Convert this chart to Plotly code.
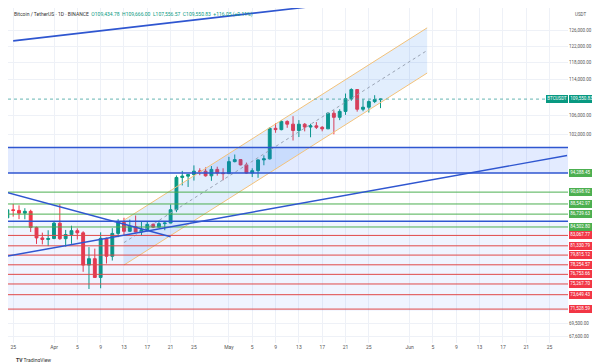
import math
import pandas as pd
import plotly.graph_objects as go

# ---------------- data ----------------
dates = pd.date_range("2025-03-24", "2025-05-27", freq="D")
opens = [86082, 87498, 87392, 86909, 87232, 84424, 82648, 82390,
         82550, 85159, 82516, 83214, 83868, 83504, 78214, 79235, 76272, 82573, 79626, 83404,
         85276, 83760, 84591, 83643, 84031, 84947, 84474, 85077, 85179, 87516, 93442, 93691,
         93980, 94638, 94629, 93750, 94980, 94284,
         94172, 96489, 96887, 95856, 94277, 94733, 96834, 97032, 103241, 102971, 104696, 104118,
         102791, 104103, 103507, 103763, 103463, 103126, 106454, 105573, 106849, 109643, 111696,
         107318, 107762, 109004, 109434.78]
highs = [88765, 88543, 88292, 87786, 87515, 84567, 83534, 83943,
         85487, 88500, 83998, 84720, 84266, 83773, 81120, 80868, 83588, 82700, 84300, 85856,
         86100, 85785, 86496, 85500, 85470, 85132, 85595, 85320, 88466, 93817, 94696, 94000,
         95758, 95199, 95369, 95630, 95500, 95200,
         97437, 97895, 96935, 96304, 95199, 96920, 97732, 103500, 104324, 104984, 104937, 105819,
         104976, 104356, 104192, 104550, 103709, 106660, 107108, 107320, 110797, 111980, 111800,
         109506, 109300, 110422, 109666.00]
lows = [85345, 86300, 85861, 85837, 83646, 81644, 81565, 81279,
        82429, 82320, 81211, 81659, 82379, 77153, 74508, 76239, 74620, 78456, 78936, 82769,
        83034, 83678, 83600, 83111, 83736, 84303, 84424, 83949, 85144, 87084, 91935, 91650,
        92855, 93870, 93602, 92800, 93780, 92910,
        94111, 96350, 95753, 94151, 93514, 93377, 95784, 96913, 102316, 102818, 103346, 100718,
        101429, 102602, 101383, 103100, 102612, 103105, 102000, 104970, 106100, 109177, 106800,
        106876, 106600, 108670, 107556.57]
closes = [87498, 87392, 86909, 87232, 84424, 82648, 82390, 82550,
          85159, 82516, 83214, 83868, 83504, 78214, 79235, 76272, 82573, 79626, 83404, 85276,
          83760, 84591, 83643, 84031, 84947, 84474, 85077, 85179, 87516, 93442, 93691, 93980,
          94638, 94629, 93750, 94980, 94284, 94172,
          96489, 96887, 95856, 94277, 94733, 96834, 97032, 103241, 102971, 104696, 104118, 102791,
          104103, 103507, 103763, 103463, 103126, 106454, 105573, 106849, 109643, 111696, 107318,
          107762, 109004, 109434, 109550.83]

green_levels = [90698.92, 88542.97, 86739.63, 84502.80]
red_levels = [83067.77, 81330.79, 79815.12, 78254.57, 76753.66, 75267.70, 73649.43, 71528.59]
blue_levels = [99300, 94288.45, 85500]
support_label = 94288.45
last_price = 109550.83

band_zone = [94288.45, 99300]
lower_zone = [71300, 85500]

top_trend_x = ["2025-03-25", "2025-05-30"]
top_trend_y = [123300, 134900]
desc_trend_x = ["2025-03-24", "2025-04-21"]
desc_trend_y = [90600, 82850]
asc_trend_x = ["2025-03-24", "2025-06-28"]
asc_trend_y = [79640, 97690]

chan_x = ["2025-04-13", "2025-06-04"]
chan_low = [78220, 115500]
chan_up = [85680, 126600]

x_tickvals = ["2025-03-25", "2025-04-01", "2025-04-05", "2025-04-09", "2025-04-13", "2025-04-17",
              "2025-04-21", "2025-04-25", "2025-05-01", "2025-05-05", "2025-05-09", "2025-05-13",
              "2025-05-17", "2025-05-21", "2025-05-25", "2025-06-01", "2025-06-05", "2025-06-09",
              "2025-06-13", "2025-06-17", "2025-06-21", "2025-06-25"]
x_ticktext = ["25", "Apr", "5", "9", "13", "17", "21", "25", "May", "5", "9", "13", "17", "21", "25",
              "Jun", "5", "9", "13", "17", "21", "25"]
y_tickvals = [67600, 69500, 102000, 106000, 114000, 118000, 122000, 126000]

# ---------------- figure ----------------
X0, X1 = "2025-03-24 02:38", "2025-06-28 03:50"
Y0, Y1 = 66769, 131806
BLUE = "#2f56d0"
GREEN_L = "#4caf50"
RED_L = "#e04848"

fig = go.Figure()

def seg(x, y, color, width=1, dash=None, fill=None, fillcolor=None):
    fig.add_trace(go.Scatter(x=x, y=y, mode="lines", line=dict(color=color, width=width, dash=dash),
                             fill=fill, fillcolor=fillcolor, hoverinfo="skip", showlegend=False))

# zones
seg([X0, X1, X1, X0, X0], [band_zone[0], band_zone[0], band_zone[1], band_zone[1], band_zone[0]],
    "rgba(0,0,0,0)", 0, fill="toself", fillcolor="rgba(41,98,255,0.13)")
seg([X0, X1, X1, X0, X0], [lower_zone[0], lower_zone[0], lower_zone[1], lower_zone[1], lower_zone[0]],
    "rgba(0,0,0,0)", 0, fill="toself", fillcolor="rgba(41,98,255,0.07)")

# channel
seg([chan_x[0], chan_x[1], chan_x[1], chan_x[0], chan_x[0]],
    [chan_low[0], chan_low[1], chan_up[1], chan_up[0], chan_low[0]],
    "rgba(0,0,0,0)", 0, fill="toself", fillcolor="rgba(33,120,243,0.13)")
seg(chan_x, chan_low, "#f3c27a", 1)
seg(chan_x, chan_up, "#f3c27a", 1)
seg(chan_x, [math.sqrt(chan_low[0] * chan_up[0]), math.sqrt(chan_low[1] * chan_up[1])],
    "#9aa4b5", 1, dash="dot")

# horizontal levels
for v in green_levels:
    seg([X0, X1], [v, v], GREEN_L, 1)
for v in red_levels:
    seg([X0, X1], [v, v], RED_L, 1)
for v in blue_levels:
    seg([X0, X1], [v, v], BLUE, 1.6)
seg([X0, X1], [last_price, last_price], "#3fa3a0", 0.8, dash="dot")

# trend lines
seg(top_trend_x, top_trend_y, BLUE, 1.6)
seg(desc_trend_x, desc_trend_y, BLUE, 1.4)
seg(asc_trend_x, asc_trend_y, BLUE, 1.4)

# candles
fig.add_trace(go.Candlestick(
    x=dates, open=opens, high=highs, low=lows, close=closes,
    increasing=dict(line=dict(color="#089981", width=1), fillcolor="#089981"),
    decreasing=dict(line=dict(color="#f23645", width=1), fillcolor="#f23645"),
    whiskerwidth=0, showlegend=False, hoverinfo="skip"))

FONT = "Roboto"
BADGE_SIZE = 4.5
ann = []
def badge(v, text, color):
    ann.append(dict(x=1, xref="paper", y=math.log10(v), yref="y", xanchor="left", yanchor="middle",
                    xshift=1, text=text, showarrow=False, bgcolor=color, borderpad=1.3, borderwidth=0,
                    font=dict(family=FONT, size=BADGE_SIZE, color="white")))

badge(last_price, f"{last_price:,.2f}", "#089981")
ann.append(dict(x=1, xref="paper", y=math.log10(last_price), yref="y", xanchor="right", yanchor="middle",
                xshift=0, text="BTCUSDT", showarrow=False, bgcolor="#089981", borderpad=1.3, borderwidth=0,
                font=dict(family=FONT, size=BADGE_SIZE, color="white")))
badge(support_label, f"{support_label:,.2f}", "#4caf50")
for v in green_levels:
    badge(v, f"{v:,.2f}", "#4caf50")
for v in red_levels:
    badge(v, f"{v:,.2f}", "#f23645")

title = ("Bitcoin / TetherUS · 1D · BINANCE  "
         "<span style='color:#089981'>O109,434.78  H109,666.00  L107,556.57  C109,550.83  +116.05 (+0.11%)</span>")
ann.append(dict(x=0, xref="paper", y=1, yref="paper", xanchor="left", yanchor="top", xshift=4, yshift=-1,
                text=title, showarrow=False, font=dict(family=FONT, size=5, color="#333")))
ann.append(dict(x=1, xref="paper", y=1, yref="paper", xanchor="left", yanchor="top", xshift=5, yshift=-2,
                text="USDT", showarrow=False, font=dict(family=FONT, size=4.5, color="#555")))
ann.append(dict(x=0, xref="paper", y=0, yref="paper", xanchor="left", yanchor="middle", xshift=6, yshift=-17,
                text="<b>TV</b> TradingView", showarrow=False, font=dict(family=FONT, size=5, color="#333")))

fig.update_layout(
    width=600, height=362, margin=dict(l=0, r=40, t=0, b=27),
    paper_bgcolor="white", plot_bgcolor="white", showlegend=False,
    annotations=ann,
    xaxis=dict(type="date", range=[X0, X1], tickvals=x_tickvals, ticktext=x_ticktext, automargin=False,
               showgrid=True, gridcolor="#eef1f7", gridwidth=1, zeroline=False, showline=False,
               ticks="", tickfont=dict(family=FONT, size=5, color="#555"), rangeslider=dict(visible=False)),
    yaxis=dict(type="log", side="right", range=[math.log10(Y0), math.log10(Y1)], automargin=False,
               tickvals=y_tickvals, ticktext=[f"{v:,.2f}" for v in y_tickvals],
               showgrid=True, gridcolor="#eef1f7", zeroline=False, showline=False, ticks="",
               tickfont=dict(family=FONT, size=4.5, color="#555")),
)

fig.write_html("out.html")
